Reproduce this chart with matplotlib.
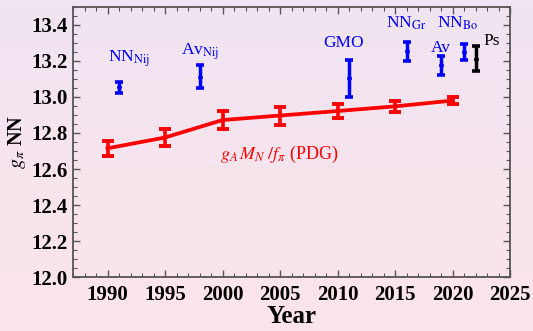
"""
Pion-nucleon coupling g_pi NN versus year.

Red line = g_A M_N / f_pi from PDG values, blue/black points = other determinations.
"""

import numpy as np
import matplotlib
matplotlib.use('Agg')
import matplotlib.pyplot as plt
from matplotlib.ticker import MultipleLocator

# PDG-derived values
pdg_years = [1990, 1995, 2000, 2005, 2010, 2015, 2020]
pdg_vals = [12.715, 12.775, 12.872, 12.897, 12.922, 12.948, 12.980]
pdg_errs = [0.042, 0.048, 0.050, 0.050, 0.038, 0.032, 0.020]

# Other determinations
pt_names = ['NN$_{\\mathrm{Nij}}$', 'Av$_{\\mathrm{Nij}}$', 'GMO', 'NN$_{\\mathrm{Gr}}$',
            'Av', 'NN$_{\\mathrm{Bo}}$', 'Ps']
pt_years = [1991, 1998, 2011, 2016, 2019, 2021, 2022]
pt_vals = [13.054, 13.113, 13.104, 13.253, 13.175, 13.252, 13.212]
pt_errs = [0.030, 0.065, 0.102, 0.055, 0.052, 0.044, 0.070]
pt_colors = ['#0000ff', '#0000ff', '#0000ff', '#0000ff', '#0000ff', '#0000ff', '#000000']
label_xy = [(1991.9, 13.21), (1998.0, 13.25), (2010.5, 13.30), (2016.0, 13.41),
            (2019.0, 13.27), (2020.4, 13.41), (2023.4, 13.31)]

plt.rcParams['font.family'] = ['Liberation Serif', 'DejaVu Serif']
plt.rcParams['mathtext.fontset'] = 'stix'

fig = plt.figure(figsize=(5.33, 3.31), dpi=100)

# pink/lavender background gradient
bg = fig.add_axes([0, 0, 1, 1], zorder=-10)
top = np.array([0xf0, 0xe5, 0xf2]) / 255
bot = np.array([0xfd, 0xe4, 0xea]) / 255
t = np.linspace(0, 1, 100)[:, None]
grad = (top * (1 - t) + bot * t)[:, None, :]
bg.imshow(grad, aspect='auto', extent=[0, 1, 0, 1])
bg.axis('off')

ax = fig.add_axes([0.137, 0.163, 0.820, 0.816])
ax.patch.set_alpha(0)

ax.errorbar(pdg_years, pdg_vals, yerr=pdg_errs, color='#ff0000', lw=2.7,
            elinewidth=2.6, capsize=4, capthick=2.8, zorder=3)

for x, y, e, c in zip(pt_years, pt_vals, pt_errs, pt_colors):
    ax.errorbar(x, y, yerr=e, fmt='o', ms=2.5, color=c, elinewidth=2.5,
                capsize=3, capthick=2.6, zorder=3)

for name, (lx, ly), c in zip(pt_names, label_xy, pt_colors):
    ax.text(lx, ly, name, color=c, fontsize=12.5, ha='center', va='center')

ax.text(2004.9, 12.68, r'$g_A\,M_N\;/f_\pi$ (PDG)', color='#ff0000', fontsize=13,
        ha='center', va='center')

ax.set_xlim(1987, 2025)
ax.set_ylim(12.0, 13.5)
ax.xaxis.set_major_locator(MultipleLocator(5))
ax.xaxis.set_minor_locator(MultipleLocator(1))
ax.yaxis.set_major_locator(MultipleLocator(0.2))
ax.yaxis.set_minor_locator(MultipleLocator(0.05))
ax.yaxis.set_major_formatter(matplotlib.ticker.FormatStrFormatter('%.1f'))
ax.xaxis.set_major_formatter(matplotlib.ticker.FormatStrFormatter('%d'))
ax.tick_params(which='both', direction='in', top=True, right=True, color='#555555')
ax.tick_params(which='major', length=5, width=1.0, labelsize=15)
ax.tick_params(which='minor', length=3, width=0.8)
ax.tick_params(axis='y', pad=4)
ax.tick_params(axis='x', pad=6)
for lbl in ax.get_xticklabels() + ax.get_yticklabels():
    lbl.set_fontweight('bold')
for sp in ax.spines.values():
    sp.set_color('#555555')
    sp.set_linewidth(1.3)

ax.set_xlabel('Year', fontsize=18, fontweight='bold', labelpad=0)
ax.set_ylabel(r'$g_{\pi}$ NN', fontsize=14.5, fontweight='bold', labelpad=2)

fig.savefig('out.png', dpi=100)
